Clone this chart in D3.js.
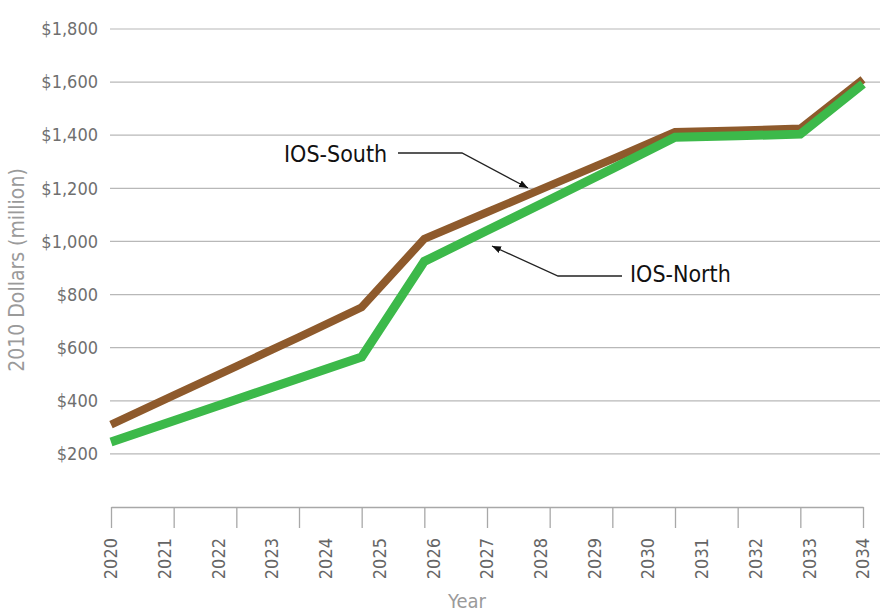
<!DOCTYPE html>
<html>
<head>
<meta charset="utf-8">
<script src="https://cdn.jsdelivr.net/npm/d3@7"></script>
<style>
  body { margin: 0; background: #fff; }
  text { font-family: "Liberation Sans Narrow", "DejaVu Sans Condensed", "Roboto Condensed", sans-serif; }
</style>
</head>
<body>
<div id="chart"></div>
<script>
// tick marks sit on a 13 step grid, year labels run 2020-2034 on their own spacing
var steps = [0, 1, 2, 3, 4, 5, 6, 7, 8, 9, 10, 11, 12];
var years = [2020, 2021, 2022, 2023, 2024, 2025, 2026, 2027, 2028, 2029, 2030, 2031, 2032, 2033, 2034];
var southValues = [310, 420, 530, 640, 752, 1010, 1110, 1210, 1310, 1412, 1418, 1425, 1610];
var northValues = [245, 325, 405, 485, 565, 925, 1041, 1157, 1274, 1392, 1398, 1404, 1593];
var yTicks = [200, 400, 600, 800, 1000, 1200, 1400, 1600, 1800];

var svgWidth = 883;
var svgHeight = 612;

var margin = {
  top: 29,
  right: 20,
  bottom: 105,
  left: 111
};

var width = 863 - margin.left;
var height = svgHeight - margin.top - margin.bottom;

var svg = d3
  .select("#chart")
  .append("svg")
  .attr("width", svgWidth)
  .attr("height", svgHeight);

var chartGroup = svg.append("g")
  .attr("transform", `translate(${margin.left}, ${margin.top})`);

var xStep = d3.scaleLinear()
  .domain([0, 12])
  .range([0, width]);

var xYear = d3.scaleLinear()
  .domain([2020, 2034])
  .range([0, width]);

var yLinearScale = d3.scaleLinear()
  .domain([0, 1800])
  .range([height, 0]);

// gridlines
chartGroup.append("g")
  .selectAll("line")
  .data(yTicks)
  .enter()
  .append("line")
  .attr("x1", -1)
  .attr("x2", 880 - margin.left)
  .attr("y1", d => yLinearScale(d))
  .attr("y2", d => yLinearScale(d))
  .attr("stroke", "#b8b8b8")
  .attr("stroke-width", 1.2);

// y tick labels
var leftAxis = d3.axisLeft(yLinearScale)
  .tickValues(yTicks)
  .tickSize(0)
  .tickPadding(13)
  .tickFormat(d => "$" + d3.format(",")(d));

var yAxis = chartGroup.append("g").call(leftAxis);
yAxis.select(".domain").remove();
yAxis.selectAll("text")
  .attr("fill", "#6f6f6f")
  .attr("font-size", 18);

// x axis: line and tick marks
var bottomAxis = d3.axisBottom(xStep)
  .tickValues(steps)
  .tickSize(21)
  .tickSizeOuter(0)
  .tickFormat("");

var xAxis = chartGroup.append("g")
  .attr("transform", `translate(0, ${height})`)
  .call(bottomAxis);
xAxis.selectAll("line, path").attr("stroke", "#a8a8a8").attr("stroke-width", 1.3);

// year labels
chartGroup.append("g")
  .selectAll("text")
  .data(years)
  .enter()
  .append("text")
  .attr("transform", d => `translate(${xYear(d)}, ${height + 31}) rotate(-90)`)
  .attr("text-anchor", "end")
  .attr("dy", "0.35em")
  .attr("fill", "#666")
  .attr("font-size", 18)
  .text(d => d);

// lines
var line = d3.line()
  .x((d, i) => xStep(steps[i]))
  .y(d => yLinearScale(d));

chartGroup.append("path")
  .datum(southValues)
  .attr("d", line)
  .attr("fill", "none")
  .attr("stroke", "#8e5a2c")
  .attr("stroke-width", 8);

chartGroup.append("path")
  .datum(northValues)
  .attr("d", line)
  .attr("fill", "none")
  .attr("stroke", "#3cb94a")
  .attr("stroke-width", 9);

// axis titles
svg.append("text")
  .attr("transform", `translate(24, 270) rotate(-90)`)
  .attr("text-anchor", "middle")
  .attr("fill", "#9a9a9a")
  .attr("font-size", 21)
  .text("2010 Dollars (million)");

svg.append("text")
  .attr("x", 467)
  .attr("y", 608)
  .attr("text-anchor", "middle")
  .attr("fill", "#9a9a9a")
  .attr("font-size", 20)
  .text("Year");

// callouts
svg.append("defs").append("marker")
  .attr("id", "arrow")
  .attr("viewBox", "0 0 10 10")
  .attr("refX", 10)
  .attr("refY", 5)
  .attr("markerWidth", 9)
  .attr("markerHeight", 9)
  .attr("markerUnits", "userSpaceOnUse")
  .attr("orient", "auto")
  .append("path")
  .attr("d", "M0,1 L10,5 L0,9 Z")
  .attr("fill", "#111");

svg.append("text")
  .attr("x", 284)
  .attr("y", 162)
  .attr("fill", "#111")
  .attr("font-size", 23)
  .attr("font-weight", 500)
  .text("IOS-South");

svg.append("polyline")
  .attr("points", "398,153 462,153 528,188")
  .attr("fill", "none")
  .attr("stroke", "#222")
  .attr("stroke-width", 1.3)
  .attr("marker-end", "url(#arrow)");

svg.append("text")
  .attr("x", 630)
  .attr("y", 282)
  .attr("fill", "#111")
  .attr("font-size", 23)
  .attr("font-weight", 500)
  .text("IOS-North");

svg.append("polyline")
  .attr("points", "622,276 558,276 492,246")
  .attr("fill", "none")
  .attr("stroke", "#222")
  .attr("stroke-width", 1.3)
  .attr("marker-end", "url(#arrow)");
</script>
</body>
</html>
